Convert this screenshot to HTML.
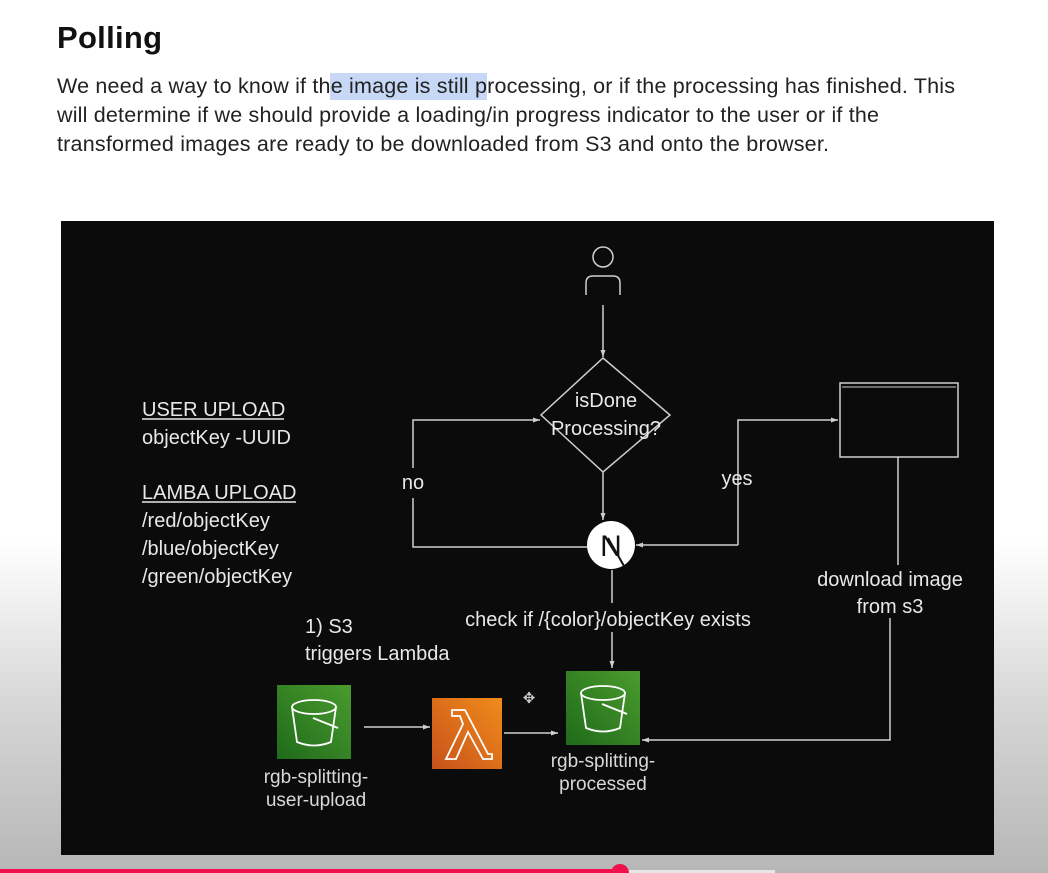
<!DOCTYPE html>
<html><head><meta charset="utf-8"><style>
html,body{margin:0;padding:0}
body{width:1048px;height:873px;overflow:hidden;background:linear-gradient(to bottom,#fff 0,#fff 62%,#d8d8d8 80%,#b6b6b6 100%);font-family:"Liberation Sans",sans-serif;position:relative}
</style></head><body>
<svg width="1048" height="873" viewBox="0 0 1048 873" xmlns="http://www.w3.org/2000/svg" style="position:absolute;left:0;top:0" font-family="Liberation Sans, sans-serif">
<defs>
<marker id="a" markerWidth="8" markerHeight="8" refX="7" refY="4" orient="auto" markerUnits="userSpaceOnUse"><path d="M0,1.5 L7,4 L0,6.5 z" fill="#cfcfcf"/></marker>
</defs>
<text x="57" y="48" font-size="31" font-weight="bold" fill="#111" textLength="105">Polling</text>
<rect x="330" y="73" width="157" height="27" fill="#c6d8f5"/>
<g font-size="21.5" fill="#222">
<text x="57" y="93" textLength="898">We need a way to know if the image is still processing, or if the processing has finished. This</text>
<text x="57" y="122" textLength="822">will determine if we should provide a loading/in progress indicator to the user or if the</text>
<text x="57" y="151" textLength="772">transformed images are ready to be downloaded from S3 and onto the browser.</text>
</g>
<rect x="61" y="221" width="933" height="634" fill="#0b0b0b"/>
<g stroke="#cfcfcf" stroke-width="1.5" fill="none">
<circle cx="603" cy="257" r="10"/>
<path d="M586,295 V283 Q586,276 593,276 H613 Q620,276 620,283 V295"/>
<line x1="603" y1="305" x2="603" y2="357" marker-end="url(#a)"/>
<path d="M603,358 L670,415 L603,472 L541,415 Z"/>
<line x1="603" y1="472" x2="603" y2="520" marker-end="url(#a)"/>
<path d="M587,547 H413 V498 M413,468 V420 H540" marker-end="url(#a)"/>
<path d="M738,545 H636" marker-end="url(#a)"/>
<path d="M738,492 V420 H838" marker-end="url(#a)"/>
<path d="M738,545 V492"/>
<rect x="840" y="383" width="118" height="74"/>
<line x1="842" y1="387" x2="956" y2="387" stroke-width="1"/>
<line x1="898" y1="457" x2="898" y2="565"/>
<path d="M890,618 V740 H642" marker-end="url(#a)"/>
<line x1="612" y1="570" x2="612" y2="603"/>
<line x1="612" y1="632" x2="612" y2="668" marker-end="url(#a)"/>
<line x1="364" y1="727" x2="430" y2="727" marker-end="url(#a)"/>
<line x1="504" y1="733" x2="558" y2="733" marker-end="url(#a)"/>
</g>
<circle cx="611" cy="545" r="24" fill="#fff"/>
<text x="611" y="556" font-size="30" text-anchor="middle" fill="#111">N</text>
<line x1="608" y1="538" x2="624" y2="566" stroke="#111" stroke-width="2"/>
<g fill="#e8e8e8" font-size="20">
<text x="606" y="407" text-anchor="middle">isDone</text>
<text x="606" y="435" text-anchor="middle">Processing?</text>
<text x="413" y="489" text-anchor="middle">no</text>
<text x="737" y="485" text-anchor="middle">yes</text>
<text x="890" y="586" text-anchor="middle">download image</text>
<text x="890" y="613" text-anchor="middle">from s3</text>
<text x="608" y="626" text-anchor="middle">check if /{color}/objectKey exists</text>
<text x="305" y="633">1) S3</text>
<text x="305" y="660">triggers Lambda</text>
<text x="142" y="416">USER UPLOAD</text>
<text x="142" y="444">objectKey -UUID</text>
<text x="142" y="499">LAMBA UPLOAD</text>
<text x="142" y="527">/red/objectKey</text>
<text x="142" y="555">/blue/objectKey</text>
<text x="142" y="583">/green/objectKey</text>
</g>
<line x1="142" y1="419" x2="284" y2="419" stroke="#e8e8e8" stroke-width="1.5"/>
<line x1="142" y1="502" x2="296" y2="502" stroke="#e8e8e8" stroke-width="1.5"/>
<g fill="#d8d8d8" font-size="19" text-anchor="middle">
<text x="316" y="783">rgb-splitting-</text>
<text x="316" y="806">user-upload</text>
<text x="603" y="767">rgb-splitting-</text>
<text x="603" y="790">processed</text>
</g>
<defs>
<linearGradient id="g" x1="0" y1="1" x2="1" y2="0"><stop offset="0" stop-color="#1f6b1a"/><stop offset="1" stop-color="#4a9b2e"/></linearGradient>
<linearGradient id="o" x1="0" y1="1" x2="1" y2="0"><stop offset="0" stop-color="#c8511b"/><stop offset="1" stop-color="#f08c1a"/></linearGradient>
</defs>
<g stroke="#fff" stroke-width="1.8" fill="none">
<rect x="277" y="685" width="74" height="74" fill="url(#g)" stroke="none"/>
<ellipse cx="314" cy="707" rx="22" ry="7"/>
<path d="M292,707 L297,742 Q314,749 331,742 L336,707"/>
<path d="M313,718 L338,728"/>
<rect x="566" y="671" width="74" height="74" fill="url(#g)" stroke="none"/>
<ellipse cx="603" cy="693" rx="22" ry="7"/>
<path d="M581,693 L586,728 Q603,735 620,728 L625,693"/>
<path d="M602,704 L627,714"/>
<rect x="432" y="698" width="70" height="71" fill="url(#o)" stroke="none"/>
<path d="M452,710 H465 L488,754 H492 V759 H483 L468,732 L456,759 H446 L463,724 L460,716 H452 Z"/>
</g>
<text x="529" y="703" font-size="15" fill="#ccc" text-anchor="middle">✥</text>
<rect x="0" y="869" width="620" height="4" fill="#f0104a"/>
<rect x="620" y="870" width="155" height="3" fill="#e6e6e6"/>
<circle cx="620" cy="873" r="9" fill="#f0104a"/>
</svg>
</body></html>
